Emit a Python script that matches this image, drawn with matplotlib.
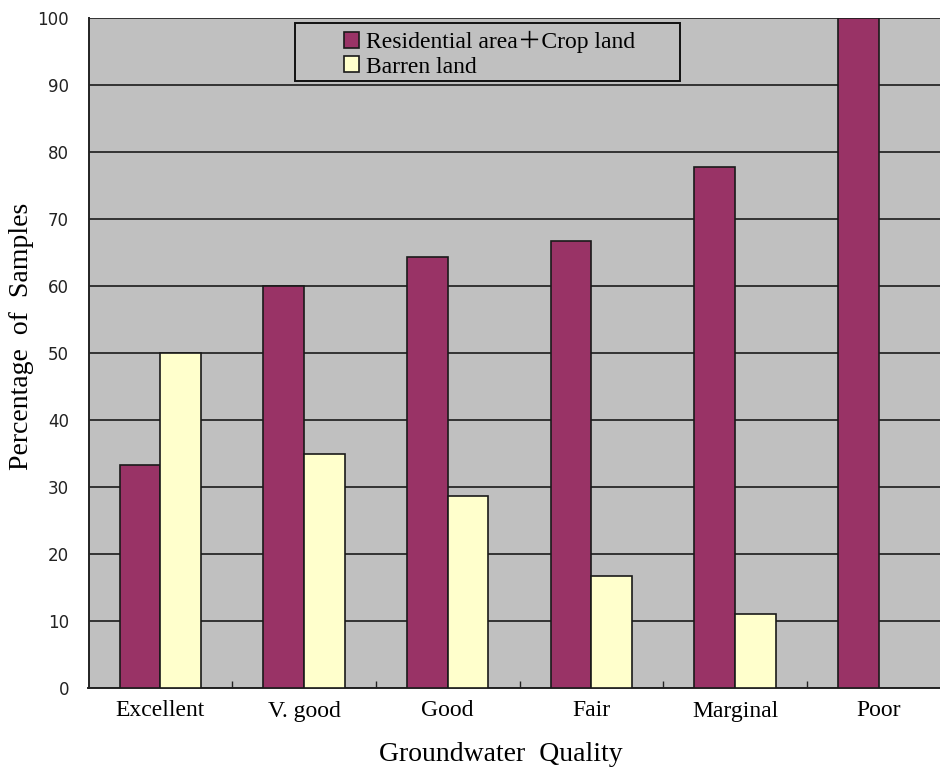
import numpy as np
import matplotlib
matplotlib.use("Agg")
import matplotlib.pyplot as plt
from matplotlib.patches import Rectangle

categories = ["Excellent", "V. good", "Good", "Fair", "Marginal", "Poor"]
residential_crop = [33.3, 60.0, 64.3, 66.7, 77.8, 100.0]
barren = [50.0, 35.0, 28.6, 16.7, 11.1, 0.0]
series_names = ["Residential area\uff0bCrop land", "Barren land"]

serif = ["Liberation Serif", "Noto Sans CJK SC", "DejaVu Serif"]
W, H = 940, 771

fig = plt.figure(figsize=(9.4, 7.71), dpi=100)
# plot area runs past the right edge of the canvas
ax = fig.add_axes([88.5 / W, 1 - 688 / H, 862 / W, 670 / H])
ax.set_facecolor("#C0C0C0")

x = np.arange(len(categories))
w = 0.282
ax.bar(x - w / 2, residential_crop, w, color="#993366", edgecolor="#1a1a1a",
       linewidth=1.2, label=series_names[0], zorder=3)
bar_mask = np.array(barren) > 0
ax.bar(x[bar_mask] + w / 2, np.array(barren)[bar_mask], w, color="#FFFFCC",
       edgecolor="#1a1a1a", linewidth=1.2, label=series_names[1], zorder=3)

ax.set_xlim(-0.5, len(categories) - 0.5)
ax.set_ylim(0, 100)
ax.set_yticks(np.arange(0, 101, 10))
ax.yaxis.grid(True, color="#333333", linewidth=1.4, zorder=1)
ax.set_axisbelow(True)

ax.set_xticks(x)
ax.set_xticklabels(categories, family=serif, fontsize=17)
ax.set_xticks(np.arange(0.5, len(categories) - 0.5, 1), minor=True)
ax.tick_params(axis="x", which="major", length=0, pad=9)
ax.tick_params(axis="x", which="minor", direction="in", length=5, width=1, color="#222222")
ax.tick_params(axis="y", direction="in", length=0, pad=14, labelsize=12, labelcolor="#222222")
for lab in ax.get_yticklabels():
    lab.set_family("DejaVu Sans")

for side in ("top", "right"):
    ax.spines[side].set_visible(False)
for side in ("left", "bottom"):
    ax.spines[side].set_color("#222222")
    ax.spines[side].set_linewidth(1.4)

fig.text(22 / W, 1 - 336 / H, "Percentage  of  Samples", family=serif,
         fontsize=20, rotation=90, ha="center", va="center")
fig.text(501 / W, 4 / H, "Groundwater  Quality", family=serif,
         fontsize=20, ha="center", va="bottom")

# legend frame
fig.patches.append(Rectangle((295 / W, 1 - 81 / H), 385 / W, 58 / H,
                             transform=fig.transFigure, facecolor="#C0C0C0",
                             edgecolor="#111111", linewidth=1.4, zorder=4))
leg = fig.legend(*ax.get_legend_handles_labels(), loc="upper left",
                 bbox_to_anchor=(344 / W, 1 - 31 / H),
                 prop={"family": serif, "size": 17}, frameon=False,
                 handlelength=0.64, handleheight=0.64, handletextpad=0.3,
                 borderpad=0, labelspacing=0.14, borderaxespad=0)
leg.set_zorder(5)

fig.savefig("out.png", dpi=100)
